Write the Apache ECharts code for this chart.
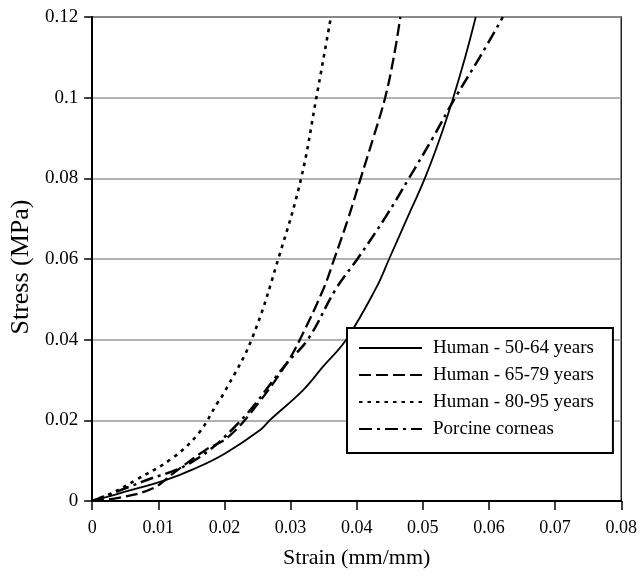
<!DOCTYPE html>
<html>
<head>
<meta charset="utf-8">
<script src="https://cdn.jsdelivr.net/npm/echarts@6/dist/echarts.min.js"></script>
<style>html,body{margin:0;padding:0;background:#fff;}#c{width:640px;height:576px;}</style>
</head>
<body>
<div id="c"></div>
<script>
var seriesNames = ['Human - 50-64 years', 'Human - 65-79 years', 'Human - 80-95 years', 'Porcine corneas'];
var xTicks = [0, 0.01, 0.02, 0.03, 0.04, 0.05, 0.06, 0.07, 0.08];
var yTicks = [0, 0.02, 0.04, 0.06, 0.08, 0.1, 0.12];

var human5064 = [[0,0],[0.005,0.0023],[0.0111,0.0052],[0.0156,0.0081],[0.0201,0.0118],[0.0254,0.0176],[0.0269,0.0201],[0.0319,0.0275],[0.0349,0.0333],[0.0384,0.04],[0.0429,0.0527],[0.0449,0.06],[0.0476,0.07],[0.0503,0.08],[0.0526,0.09],[0.0546,0.1],[0.0564,0.11],[0.058,0.12]];
var human6579 = [[0,0],[0.004,0.0008],[0.0091,0.0031],[0.0126,0.0073],[0.0171,0.0126],[0.0206,0.0159],[0.0251,0.0242],[0.0294,0.0341],[0.0314,0.04],[0.035,0.0527],[0.0366,0.06],[0.0387,0.07],[0.0406,0.08],[0.0425,0.09],[0.0443,0.1],[0.0456,0.11],[0.0466,0.12]];
var human8095 = [[0,0],[0.003,0.002],[0.0066,0.0052],[0.0121,0.0106],[0.0161,0.0168],[0.0189,0.0242],[0.0199,0.0267],[0.0241,0.04],[0.0284,0.0614],[0.0316,0.08],[0.0339,0.1],[0.0361,0.12]];
var porcine = [[0,0],[0.0076,0.0048],[0.0151,0.0097],[0.0221,0.0193],[0.0294,0.0341],[0.0326,0.04],[0.0369,0.0527],[0.0401,0.06],[0.0444,0.0705],[0.0479,0.08],[0.0515,0.09],[0.0549,0.1],[0.0586,0.11],[0.0621,0.12]];

var font = 'Liberation Serif';
var chart = echarts.init(document.getElementById('c'), null, {renderer: 'canvas'});
function fmt(v){ return String(+v.toFixed(2)); }
function mk(name, data, type, width){
  return {
    name: name, type: 'line', data: data, symbol: 'none', showSymbol: false,
    smooth: 0.4,
    lineStyle: {color: '#000', width: width, type: type, cap: 'butt'},
    itemStyle: {color: '#000'}
  };
}
chart.setOption({
  animation: false,
  backgroundColor: '#fff',
  grid: {left: 91, right: 16, top: 17, bottom: 75, show: true, borderColor: '#222', borderWidth: 1.5, backgroundColor: 'transparent'},
  legend: {
    orient: 'vertical', left: 347, top: 328,
    data: seriesNames,
    itemWidth: 63, itemHeight: 14, itemGap: 7,
    padding: [10, 19, 14, 11],
    backgroundColor: '#fff', borderColor: '#000', borderWidth: 2,
    itemStyle: {opacity: 0},
    textStyle: {fontFamily: font, fontSize: 19, color: '#000', lineHeight: 20, padding: [0, 0, 0, 6]}
  },
  xAxis: {
    type: 'value', min: xTicks[0], max: xTicks[xTicks.length - 1], interval: 0.01,
    name: 'Strain (mm/mm)', nameLocation: 'middle', nameGap: 46,
    nameTextStyle: {fontFamily: font, fontSize: 22, color: '#000'},
    axisLine: {show: true, onZero: false, lineStyle: {color: '#000', width: 2}},
    axisTick: {show: true, length: 9, lineStyle: {color: '#000', width: 1.5}},
    axisLabel: {fontFamily: font, fontSize: 18, color: '#000', margin: 18, formatter: fmt},
    splitLine: {show: false}
  },
  yAxis: {
    type: 'value', min: yTicks[0], max: yTicks[yTicks.length - 1], interval: 0.02,
    name: 'Stress (MPa)', nameLocation: 'middle', nameGap: 56,
    nameTextStyle: {fontFamily: font, fontSize: 26, color: '#000', padding: [0, 16, 0, 0]},
    axisLine: {show: true, onZero: false, lineStyle: {color: '#000', width: 2}},
    axisTick: {show: true, length: 8, lineStyle: {color: '#000', width: 1.5}},
    axisLabel: {fontFamily: font, fontSize: 19, color: '#000', margin: 14, formatter: fmt},
    splitLine: {show: true, lineStyle: {color: '#999', width: 1.5}}
  },
  series: [
    mk(seriesNames[0], human5064, 'solid', 1.8),
    mk(seriesNames[1], human6579, [12, 5], 2.3),
    mk(seriesNames[2], human8095, [3.5, 5], 2.6),
    mk(seriesNames[3], porcine, [13, 5, 3, 5], 2.5)
  ]
});
</script>
</body>
</html>
